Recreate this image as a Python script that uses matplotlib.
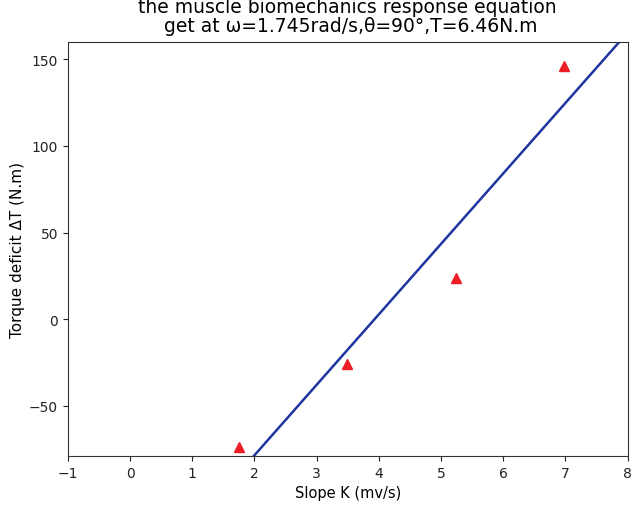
import numpy as np
import matplotlib
matplotlib.use("Agg")
import matplotlib.pyplot as plt

# data
slope_k = [1.745, 3.49, 5.235, 6.98]
torque_deficit = [-74, -26, 24, 146]
x_ticks = [-1, 0, 1, 2, 3, 4, 5, 6, 7, 8]
y_ticks = [-50, 0, 50, 100, 150]

fig = plt.figure(figsize=(6.34, 5.06), dpi=100)
ax = fig.add_axes([0.107, 0.097, 0.883, 0.818])

coef = np.polyfit(slope_k, torque_deficit, 1)
line_x = np.array([x_ticks[0], x_ticks[-1]])
ax.plot(line_x, np.polyval(coef, line_x), color='#1f35a0', linewidth=1.8)
ax.plot(slope_k, torque_deficit, linestyle='none', marker='^', color='#ee1c25', markersize=7)

ax.set_xlim(-1, 8)
ax.set_ylim(-79, 160)
ax.set_xticks(x_ticks)
ax.set_yticks(y_ticks)
ax.tick_params(labelsize=10, colors='#222222')
for s in ax.spines.values():
    s.set_color('#333333')
ax.set_xlabel('Slope K (mv/s)', fontsize=10.5)
ax.set_ylabel('Torque deficit ΔT (N.m)', fontsize=11, labelpad=3)
ax.set_title('the muscle biomechanics response equation\n get at ω=1.745rad/s,θ=90°,T=6.46N.m',
             fontsize=13.5, pad=8, linespacing=1.0)

fig.savefig('out.png', dpi=100)
